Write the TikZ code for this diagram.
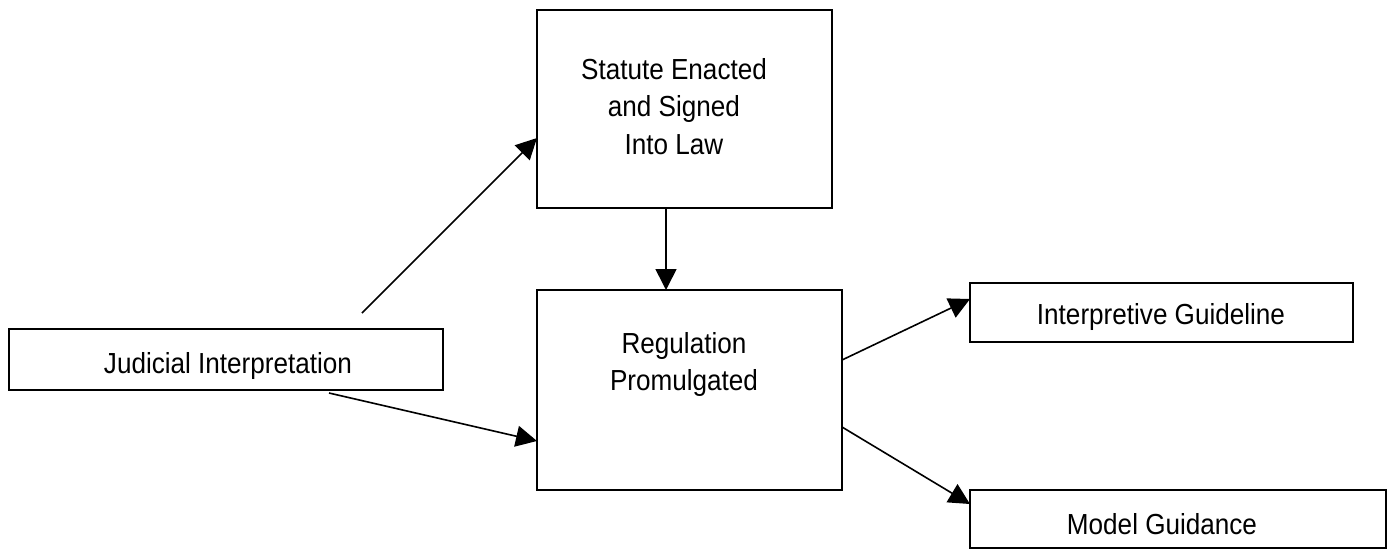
\documentclass[tikz,border=0pt]{standalone}
\usepackage{fontspec}
\setmainfont{Liberation Sans}[FakeStretch=0.9]
\usetikzlibrary{arrows.meta}
\begin{document}
\begin{tikzpicture}[x=1pt,y=-1pt,
  box/.style={draw, line width=2pt, rectangle, inner sep=0pt, outer sep=0pt, anchor=north west},
  caption/.style={inner sep=0pt, font=\fontsize{29}{37.5}\selectfont, align=center},
  link/.style={line width=1.6pt, -{Triangle[length=21pt,width=21pt]}}]
\useasboundingbox (0,0) rectangle (1390,550);

% boxes
\node[box, minimum width=295pt, minimum height=198pt] (statute) at (537,10) {};
\node[box, minimum width=305pt, minimum height=200pt] (reg) at (537,290) {};
\node[box, minimum width=434pt, minimum height=61pt] (judicial) at (9,329) {};
\node[box, minimum width=383pt, minimum height=59pt] (interp) at (970,283) {};
\node[box, minimum width=416pt, minimum height=58pt] (model) at (970,490) {};

% box texts
\node[caption, anchor=north] (statutetxt) at (674,58) {Statute Enacted\\and Signed\\Into Law};
\node[caption, anchor=north] (regtxt) at (684,332) {Regulation\\Promulgated};
\node[caption, anchor=base] (judtxt) at (228,373) {Judicial Interpretation};
\node[caption, anchor=base] (interptxt) at (1161,324) {Interpretive Guideline};
\node[caption, anchor=base] (modeltxt) at (1162,534) {Model Guidance};

% free ends of the connectors leaving the judicial box
\coordinate (jup) at (362,313);
\coordinate (jdown) at (329,393);

% connectors
\draw[link] (jup) -- ([yshift=-128pt]statute.north west);
\draw[link] (jdown) -- ([yshift=-151pt]reg.north west);
\draw[link] ([xshift=129pt]statute.south west) -- ([xshift=129pt]reg.north west);
\draw[link] ([yshift=-70pt]reg.north east) -- ([yshift=-16pt]interp.north west);
\draw[link] ([yshift=-137pt]reg.north east) -- ([yshift=-14pt]model.north west);
\end{tikzpicture}
\end{document}
